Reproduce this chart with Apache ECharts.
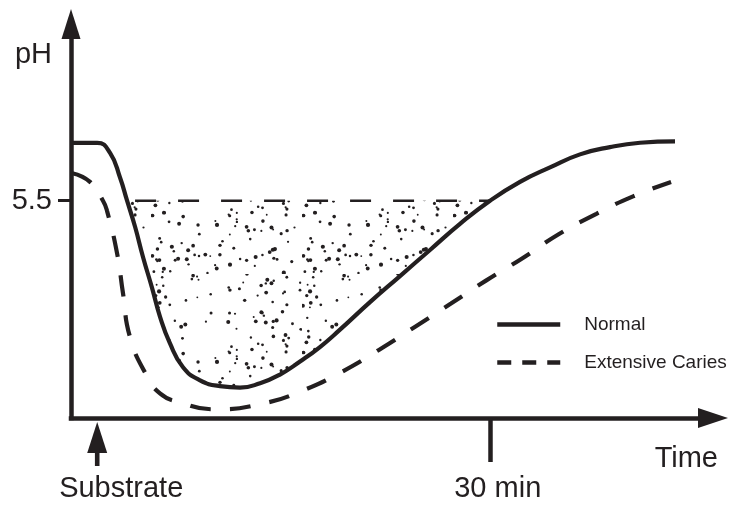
<!DOCTYPE html>
<html><head><meta charset="utf-8">
<script src="https://cdn.jsdelivr.net/npm/echarts@6/dist/echarts.min.js"></script>
<style>html,body{margin:0;padding:0;background:#fff}#c{width:733px;height:506px}</style>
</head><body><div id="c"></div>
<script>
// ---- data (time in minutes after substrate, pH) ----
const normalTime = [-1.9, 0.0, 0.98, 1.74, 2.28, 2.89, 3.50, 4.18, 4.79, 5.53, 6.55, 7.85, 9.37, 10.9, 12.43, 13.95, 15.48, 17.0, 18.53, 20.82, 23.11, 25.40, 27.69, 29.98, 32.27, 34.56, 36.85, 39.14, 41.43, 44.1];
const normalPH   = [5.90, 5.90, 5.83, 5.66, 5.50, 5.32, 5.11, 4.90, 4.70, 4.52, 4.35, 4.26, 4.22, 4.21, 4.24, 4.30, 4.39, 4.49, 4.61, 4.80, 4.98, 5.16, 5.34, 5.50, 5.63, 5.73, 5.82, 5.87, 5.90, 5.91];
const cariesTime = [-1.9, -0.55, 0.44, 0.75, 1.51, 1.97, 2.5, 3.73, 4.79, 6.24, 9.0, 12.66, 15.7, 18.7, 21.5, 24.27, 27.0, 29.7, 32.4, 35.25, 38.1, 40.9, 43.8];
const cariesPH   = [5.69, 5.63, 5.50, 5.43, 5.14, 4.86, 4.56, 4.30, 4.17, 4.11, 4.06, 4.10, 4.19, 4.32, 4.47, 4.63, 4.79, 4.95, 5.10, 5.27, 5.41, 5.53, 5.63];
const criticalPH = 5.5;
const criticalSpan = [2.89, 30.0];
const substrateTime = 0;
const xTickValues = [30];
const xLabelValues = [0, 30];
const xLabelTexts = ['Substrate', '30 min'];
const yLabelValues = [5.5];
const seriesNames = ['Normal', 'Extensive Caries'];

const INK = '#231f20';
const FONT = "'Liberation Sans', Arial, sans-serif";

const pair = (xs, ys) => xs.map((x, i) => [x, ys[i]]);
const normalData = pair(normalTime, normalPH);
const cariesData = pair(cariesTime, cariesPH);
const fillData = normalData.filter(p => p[1] <= criticalPH);

// stipple texture (deterministic)
function stipple() {
  const W = 151, H = 137, c = document.createElement('canvas');
  c.width = W; c.height = H;
  const g = c.getContext('2d');
  let s = 98765;
  const rnd = () => { s = (s * 1103515245 + 12345) % 2147483648; return s / 2147483648; };
  g.fillStyle = INK;
  for (let i = 0; i < 150; i++) {
    const x = rnd() * W, y = rnd() * H, r = 0.9 + rnd() * 1.2;
    g.beginPath(); g.arc(x, y, r, 0, Math.PI * 2); g.fill();
  }
  return c;
}

const chart = echarts.init(document.getElementById('c'), null, {renderer: 'canvas'});
const smoothOpt = {smooth: 0.5};
chart.setOption({
  animation: false,
  backgroundColor: '#fff',
  textStyle: {fontFamily: FONT, color: INK},
  grid: {left: 71, right: 20, top: 24, bottom: 88, containLabel: false, outerBoundsMode: 'none'},
  legend: {
    orient: 'vertical', left: 490, top: 310, itemWidth: 63, itemHeight: 20, itemGap: 19,
    selectedMode: false,
    textStyle: {fontFamily: FONT, fontSize: 19, color: INK, padding: [0, 0, 0, 19]},
    data: [
      {name: seriesNames[0], itemStyle: {opacity: 0}, lineStyle: {type: 'solid', width: 4.5}},
      {name: seriesNames[1], itemStyle: {opacity: 0}, lineStyle: {type: [14, 11], width: 4.5}}
    ]
  },
  xAxis: {
    type: 'value', min: -2, max: 47,
    name: 'Time', nameLocation: 'end', nameGap: 5,
    nameTextStyle: {fontFamily: FONT, fontSize: 29, color: INK, align: 'right', verticalAlign: 'top', padding: [26, 0, 0, 0]},
    axisLine: {show: true, onZero: false, symbol: ['none', 'triangle'], symbolSize: [20, 30], lineStyle: {color: INK, width: 4.5, cap: 'square'}},
    axisTick: {show: true, customValues: xTickValues, length: 44, lineStyle: {color: INK, width: 4.5}},
    axisLabel: {
      show: true, customValues: xLabelValues, margin: 56, fontSize: 29, color: INK, fontFamily: FONT,
      formatter: v => {
        const i = xLabelValues.indexOf(v);
        return i === 0 ? '{a|' + xLabelTexts[0] + '}' : '{b|' + xLabelTexts[i] + '}';
      },
      rich: {a: {fontSize: 29, fontFamily: FONT, color: INK, padding: [0, 0, 0, 48]},
             b: {fontSize: 29, fontFamily: FONT, color: INK, padding: [0, 0, 0, 15]}}
    },
    splitLine: {show: false}
  },
  yAxis: {
    type: 'value', min: 4.0, max: 6.72,
    name: 'pH', nameLocation: 'end', nameGap: -31,
    nameTextStyle: {fontFamily: FONT, fontSize: 29, color: INK, align: 'right', verticalAlign: 'middle', padding: [0, 19, 0, 0]},
    axisLine: {show: true, onZero: false, symbol: ['none', 'triangle'], symbolSize: [19, 30], lineStyle: {color: INK, width: 4.5, cap: 'square'}},
    axisTick: {show: true, customValues: yLabelValues, length: 13, lineStyle: {color: INK, width: 3}},
    axisLabel: {show: true, customValues: yLabelValues, margin: 19, fontSize: 29, color: INK, fontFamily: FONT, formatter: v => v.toFixed(1)},
    splitLine: {show: false}
  },
  series: [
    Object.assign({
      name: 'fill', type: 'line', data: fillData, symbol: 'none', silent: true, z: 1,
      lineStyle: {width: 0, opacity: 0},
      areaStyle: {origin: criticalPH, opacity: 1, color: {image: stipple(), repeat: 'repeat'}}
    }, smoothOpt),
    {
      name: 'critical', type: 'line', data: criticalSpan.map(t => [t, criticalPH]), symbol: 'none', silent: true, z: 2,
      lineStyle: {color: INK, width: 2.5, type: [21, 22]}
    },
    Object.assign({
      name: seriesNames[1], type: 'line', data: cariesData, symbol: 'none', z: 3,
      lineStyle: {color: INK, width: 4.2, type: [21, 19]}, itemStyle: {color: INK}
    }, smoothOpt),
    Object.assign({
      name: seriesNames[0], type: 'line', data: normalData, symbol: 'none', z: 4,
      lineStyle: {color: INK, width: 4.2, type: 'solid'}, itemStyle: {color: INK}
    }, smoothOpt)
  ]
});

const p = chart.convertToPixel({gridIndex: 0}, [substrateTime, 4.0]);
chart.setOption({
  graphic: [
    {type: 'polygon', shape: {points: [[p[0], p[1] + 4], [p[0] - 10, p[1] + 35], [p[0] + 10, p[1] + 35]]}, style: {fill: INK}},
    {type: 'rect', shape: {x: p[0] - 2.3, y: p[1] + 30, width: 4.6, height: 18}, style: {fill: INK}}
  ]
});
</script>
</body></html>
